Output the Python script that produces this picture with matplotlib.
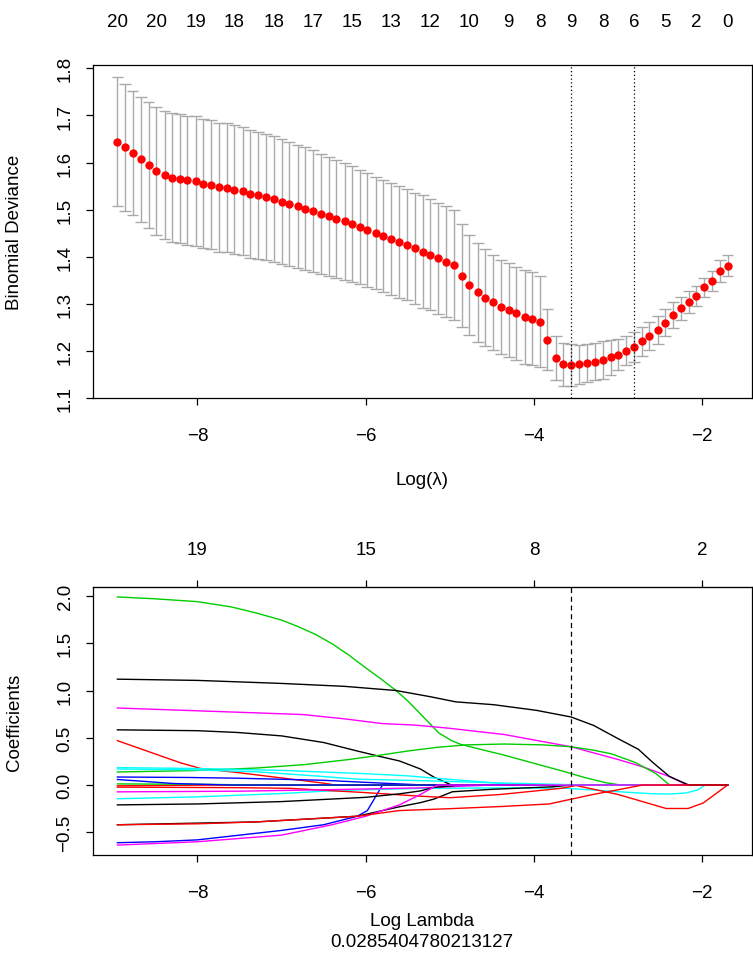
import numpy as np
import matplotlib.pyplot as plt

plt.rcParams['font.family'] = ['Liberation Sans', 'DejaVu Sans']

# ---- cross-validation curve (top panel) ----
log_lambda = [-8.95, -8.86, -8.77, -8.67, -8.58, -8.49, -8.39, -8.30, -8.21, -8.12,
              -8.02, -7.93, -7.84, -7.74, -7.65, -7.56, -7.46, -7.37, -7.28, -7.18,
              -7.09, -7.00, -6.91, -6.81, -6.72, -6.63, -6.53, -6.44, -6.35, -6.25,
              -6.16, -6.07, -5.98, -5.88, -5.79, -5.70, -5.60, -5.51, -5.42, -5.32,
              -5.23, -5.14, -5.05, -4.95, -4.86, -4.77, -4.67, -4.58, -4.49, -4.39,
              -4.30, -4.21, -4.11, -4.02, -3.93, -3.84, -3.74, -3.65, -3.56, -3.46,
              -3.37, -3.28, -3.18, -3.09, -3.00, -2.91, -2.81, -2.72, -2.63, -2.53,
              -2.44, -2.35, -2.25, -2.16, -2.07, -1.98, -1.88, -1.79, -1.70]
cv_mean = [1.644, 1.632, 1.620, 1.607, 1.594, 1.582, 1.574, 1.568, 1.566, 1.562,
           1.560, 1.555, 1.553, 1.548, 1.546, 1.542, 1.539, 1.534, 1.530, 1.526,
           1.522, 1.517, 1.512, 1.507, 1.502, 1.497, 1.491, 1.486, 1.480, 1.475,
           1.469, 1.463, 1.456, 1.450, 1.443, 1.438, 1.431, 1.425, 1.418, 1.411,
           1.404, 1.397, 1.389, 1.382, 1.360, 1.340, 1.324, 1.313, 1.303, 1.293,
           1.286, 1.280, 1.272, 1.268, 1.262, 1.224, 1.184, 1.171, 1.170, 1.171,
           1.174, 1.177, 1.181, 1.186, 1.192, 1.200, 1.208, 1.220, 1.232, 1.244,
           1.260, 1.276, 1.290, 1.304, 1.317, 1.335, 1.349, 1.369, 1.381]
cv_sd = [0.137, 0.134, 0.132, 0.133, 0.134, 0.135, 0.136, 0.137, 0.137, 0.137,
         0.138, 0.137, 0.137, 0.137, 0.137, 0.137, 0.136, 0.136, 0.135, 0.134,
         0.134, 0.132, 0.132, 0.131, 0.130, 0.129, 0.128, 0.126, 0.125, 0.124,
         0.123, 0.121, 0.121, 0.119, 0.119, 0.119, 0.119, 0.118, 0.118, 0.119,
         0.118, 0.118, 0.118, 0.117, 0.110, 0.106, 0.105, 0.103, 0.101, 0.100,
         0.100, 0.099, 0.100, 0.099, 0.096, 0.065, 0.047, 0.045, 0.044, 0.042,
         0.041, 0.040, 0.040, 0.037, 0.033, 0.031, 0.031, 0.030, 0.030, 0.030,
         0.029, 0.027, 0.025, 0.023, 0.021, 0.020, 0.021, 0.023, 0.023]

# number of non-zero coefficients shown along the top
nz_pos = [-8.95, -8.49, -8.02, -7.56, -7.09, -6.63, -6.16, -5.70, -5.23,
          -4.77, -4.30, -3.93, -3.56, -3.18, -2.81, -2.44, -2.07, -1.70]
nz_labels = ['20', '20', '19', '18', '18', '17', '15', '13', '12',
             '10', '9', '8', '9', '8', '6', '5', '2', '0']

lambda_min = 0.0285404780213127
log_lambda_min = np.log(lambda_min)
log_lambda_1se = -2.81

# ---- coefficient paths (bottom panel), knots ----
k3_x = [-8.95, -8.0, -7.52, -7.0, -6.5, -6.1, -5.82, -5.6, -5.35, -5.19, -4.98]
k3_y = [0.584, 0.575, 0.556, 0.52, 0.45, 0.36, 0.30, 0.255, 0.17, 0.084, 0.0]
r1_x = [-8.95, -8.6, -8.2, -7.96, -7.5, -7.0, -6.5, -6.36]
r1_y = [0.47, 0.36, 0.235, 0.175, 0.13, 0.075, 0.02, 0.0]
g2_x = [-8.95, -8.5, -8.0, -7.6, -7.3, -7.0, -6.8, -6.6, -6.4, -6.2, -6.0,
        -5.8, -5.64, -5.5, -5.39, -5.25, -5.13, -4.98, -4.87, -4.6, -4.37,
        -4.0, -3.67, -3.4, -3.15, -2.97]
g2_y = [1.99, 1.97, 1.94, 1.885, 1.82, 1.745, 1.675, 1.595, 1.495, 1.375, 1.24,
        1.11, 1.0, 0.89, 0.79, 0.66, 0.55, 0.47, 0.43, 0.37, 0.32,
        0.23, 0.15, 0.08, 0.025, 0.0]
b3_x = [-8.95, -8.5, -8.0, -7.5, -7.0, -6.5, -6.1, -5.98, -5.9, -5.8]
b3_y = [-0.61, -0.60, -0.58, -0.53, -0.48, -0.42, -0.33, -0.27, -0.15, 0.0]
c2_x = [-8.95, -8.0, -7.0, -6.5, -6.0, -5.35, -4.4, -3.6, -3.0, -2.6, -2.4,
        -2.2, -2.05, -1.97]
c2_y = [-0.145, -0.125, -0.09, -0.065, -0.05, -0.035, -0.03, -0.035, -0.07,
        -0.092, -0.095, -0.085, -0.05, 0.0]
m3_x = [-8.95, -7.76, -6.75, -6.25, -5.8, -5.41, -5.0, -4.35, -3.56, -3.0,
        -2.7, -2.39, -2.18]
m3_y = [0.815, 0.778, 0.746, 0.70, 0.65, 0.634, 0.60, 0.534, 0.405, 0.27,
        0.19, 0.09, 0.0]
k4_x = [-8.95, -7.3, -6.1, -5.6, -5.35, -5.19, -4.97, -4.5, -3.79, -3.59, -3.5]
k4_y = [-0.42, -0.39, -0.33, -0.23, -0.186, -0.149, -0.071, -0.045, -0.019,
        -0.003, 0.0]
r2_x = [-8.95, -7.5, -6.9, -6.0, -5.35, -5.0, -4.4, -3.67, -3.5, -3.0, -2.43,
        -2.17, -1.99, -1.70]
r2_y = [-0.022, -0.028, -0.035, -0.08, -0.118, -0.134, -0.10, -0.034, -0.005,
        -0.10, -0.248, -0.248, -0.19, 0.0]
g1_x = [-8.95, -8.05, -7.3, -6.73, -6.2, -5.83, -5.5, -5.14, -4.8, -4.35,
        -3.9, -3.56, -3.3, -3.08, -2.8, -2.55, -2.39]
g1_y = [0.138, 0.153, 0.18, 0.216, 0.27, 0.316, 0.36, 0.40, 0.425, 0.434,
        0.425, 0.405, 0.37, 0.33, 0.24, 0.12, 0.0]
b1_x = [-8.95, -8.1, -7.5, -6.5, -5.8, -5.3]
b1_y = [0.085, 0.08, 0.072, 0.05, 0.02, 0.0]
c1_x = [-8.95, -8.0, -7.0, -6.0, -5.5, -5.0, -4.5, -4.1]
c1_y = [0.184, 0.175, 0.155, 0.12, 0.097, 0.06, 0.025, 0.0]
m1_x = [-8.95, -7.5, -6.5, -5.35, -4.8, -4.5]
m1_y = [-0.072, -0.065, -0.05, -0.03, -0.01, 0.0]
k2_x = [-8.95, -8.0, -7.0, -6.0, -5.6, -5.35, -5.19, -4.99, -4.9]
k2_y = [-0.21, -0.20, -0.175, -0.13, -0.093, -0.062, -0.025, -0.01, 0.0]
r4_x = [-8.95, -8.3, -7.8]
r4_y = [-0.008, -0.004, 0.0]
g3_x = [-8.95, -8.0, -7.2]
g3_y = [0.012, 0.008, 0.0]
b2_x = [-8.95, -8.28, -7.6]
b2_y = [0.059, 0.016, 0.0]
c3_x = [-8.95, -8.0, -7.29, -6.5, -6.1, -5.35, -4.4, -3.6, -3.4]
c3_y = [0.17, 0.16, 0.14, 0.09, 0.062, 0.047, 0.022, 0.005, 0.0]
m2_x = [-8.95, -8.0, -7.0, -6.4, -6.0, -5.6, -5.35, -5.15]
m2_y = [-0.635, -0.60, -0.53, -0.42, -0.33, -0.21, -0.10, 0.0]
k1_x = [-8.95, -8.0, -7.0, -6.25, -5.64, -5.23, -4.93, -4.48, -3.97, -3.56,
        -3.29, -3.0, -2.76, -2.59, -2.39, -2.25, -2.16]
k1_y = [1.12, 1.107, 1.075, 1.044, 1.0, 0.934, 0.88, 0.85, 0.79, 0.72,
        0.63, 0.49, 0.378, 0.24, 0.09, 0.035, 0.0]
r3_x = [-8.95, -8.0, -7.3, -6.5, -6.1, -5.6, -5.0, -4.39, -3.82, -3.56, -3.3,
        -3.03, -2.71]
r3_y = [-0.42, -0.41, -0.39, -0.35, -0.33, -0.27, -0.25, -0.227, -0.20, -0.15,
        -0.10, -0.055, 0.0]

# matplot order: colours cycle black, red, green3, blue, cyan, magenta
paths = [(k3_x, k3_y), (r1_x, r1_y), (g2_x, g2_y), (b3_x, b3_y), (c2_x, c2_y),
         (m3_x, m3_y), (k4_x, k4_y), (r2_x, r2_y), (g1_x, g1_y), (b1_x, b1_y),
         (c1_x, c1_y), (m1_x, m1_y), (k2_x, k2_y), (r4_x, r4_y), (g3_x, g3_y),
         (b2_x, b2_y), (c3_x, c3_y), (m2_x, m2_y), (k1_x, k1_y), (r3_x, r3_y)]
palette = ['black', '#FF0000', '#00CD00', '#0000FF', '#00FFFF', '#FF00FF']

df_ticks = [-8, -6, -4, -2]
df_labels = ['19', '15', '8', '2']

W, H = 753, 979
FS = 13.5
fig = plt.figure(figsize=(W / 100, H / 100), dpi=100)


def px_axes(left, top, right, bottom):
    return fig.add_axes([left / W, 1 - bottom / H, (right - left) / W, (bottom - top) / H])


def r_range(vals):
    lo, hi = min(vals), max(vals)
    pad = (hi - lo) * 0.04
    return lo - pad, hi + pad


def style_axes(ax):
    for s in ax.spines.values():
        s.set_linewidth(0.9)
    ax.tick_params(direction='out', length=5, width=0.9, labelsize=FS, colors='black')
    ax.tick_params(axis='x', pad=16)
    ax.tick_params(axis='y', pad=9)
    for lab in ax.get_yticklabels():
        lab.set_rotation(90)
        lab.set_va('center')


x = np.array(log_lambda)
m = np.array(cv_mean)
sd = np.array(cv_sd)
upper, lower = m + sd, m - sd

# ---- top panel ----
ax1 = px_axes(93, 66, 752, 399)
ax1.set_xlim(r_range(log_lambda))
ax1.set_ylim(r_range(list(upper) + list(lower)))
cap = 0.07
ax1.vlines(x, lower, upper, color='#A9A9A9', lw=1.0)
ax1.hlines(upper, x - cap, x + cap, color='#A9A9A9', lw=1.0)
ax1.hlines(lower, x - cap, x + cap, color='#A9A9A9', lw=1.0)
ax1.plot(x, m, 'o', color='#FF0000', ms=6, mec='none', zorder=3)
ax1.axvline(log_lambda_min, color='black', lw=0.9, ls=(0, (1, 2)), zorder=4)
ax1.axvline(log_lambda_1se, color='black', lw=0.9, ls=(0, (1, 2)), zorder=4)
ax1.set_xticks([-8, -6, -4, -2])
ax1.set_yticks([1.1, 1.2, 1.3, 1.4, 1.5, 1.6, 1.7, 1.8])
style_axes(ax1)
top1 = ax1.secondary_xaxis('top')
top1.set_xticks(nz_pos, nz_labels)
top1.tick_params(length=0, pad=25, labelsize=FS)
top1.spines['top'].set_visible(False)

fig.text(15 / W, 1 - 232 / H, 'Binomial Deviance', rotation=90, ha='center', va='center', fontsize=FS)
fig.text(422 / W, 1 - 481 / H, 'Log(λ)', ha='center', va='center', fontsize=FS)

# ---- bottom panel ----
ax2 = px_axes(93, 588, 752, 856)
ax2.set_xlim(r_range(log_lambda))
all_y = [v for _, ys in paths for v in ys]
ax2.set_ylim(r_range(all_y))
x_end = log_lambda[-1]
for i, (px, py) in enumerate(paths):
    xs = list(px)
    ys = list(py)
    if xs[-1] < x_end:
        xs.append(x_end)
        ys.append(0.0)
    ax2.plot(xs, ys, color=palette[i % 6], lw=1.0, solid_joinstyle='round')
ax2.axvline(log_lambda_min, color='black', lw=0.9, ls=(0, (4, 3)), zorder=5)
ax2.set_xticks([-8, -6, -4, -2])
ax2.set_yticks([-0.5, 0.0, 0.5, 1.0, 1.5, 2.0])
style_axes(ax2)
top2 = ax2.secondary_xaxis('top')
top2.set_xticks(df_ticks, df_labels)
top2.tick_params(direction='out', length=5, width=0.9, pad=16, labelsize=FS)

fig.text(15 / W, 1 - 722 / H, 'Coefficients', rotation=90, ha='center', va='center', fontsize=FS)
fig.text(422 / W, 1 - 922 / H, 'Log Lambda', ha='center', va='center', fontsize=FS)
fig.text(422 / W, 1 - 943 / H, '0.0285404780213127', ha='center', va='center', fontsize=FS)

fig.savefig('out.png', dpi=100)
